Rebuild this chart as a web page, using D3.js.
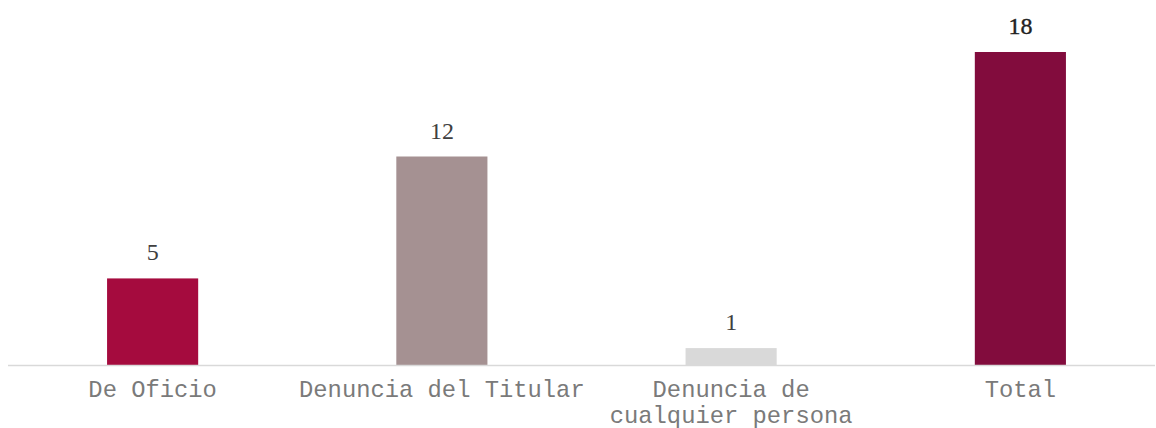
<!DOCTYPE html>
<html>
<head>
<meta charset="utf-8">
<script src="https://cdn.jsdelivr.net/npm/d3@7"></script>
<style>
  body { margin: 0; background: #fff; }
</style>
</head>
<body>
<div id="vis"></div>
<script>
// chart data
var categories = ["De Oficio", "Denuncia del Titular", "Denuncia de|cualquier persona", "Total"];
var values = [5, 12, 1, 18];
var colors = ["#A50B3E", "#A59192", "#D9D9D9", "#820C3D"];

var W = 1156, H = 428;
var base = 365.5;   // baseline of the bars
var top0 = 52;      // top of tallest bar

var svg = d3.select("#vis").append("svg")
  .attr("width", W)
  .attr("height", H);

var x = d3.scaleBand()
  .domain(categories)
  .range([8, 1165])
  .paddingInner(0.685)
  .paddingOuter(0.3425);

var y = d3.scaleLinear()
  .domain([0, 18])
  .range([base, top0]);

// bars
svg.selectAll("rect.bar")
  .data(values)
 .enter().append("rect")
  .attr("class", "bar")
  .attr("x", function(d, i){ return x(categories[i]); })
  .attr("y", function(d){ return y(d); })
  .attr("width", x.bandwidth())
  .attr("height", function(d){ return base - y(d); })
  .attr("fill", function(d, i){ return colors[i]; });

// axis line
svg.append("line")
  .attr("x1", 8).attr("x2", 1155)
  .attr("y1", base).attr("y2", base)
  .attr("stroke", "#D9D9D9")
  .attr("stroke-width", 1.5);

// value labels
svg.selectAll("text.val")
  .data(values)
 .enter().append("text")
  .attr("class", "val")
  .attr("x", function(d, i){ return x(categories[i]) + x.bandwidth()/2; })
  .attr("y", function(d){ return y(d) - 18; })
  .attr("text-anchor", "middle")
  .attr("font-family", "'Liberation Serif', 'Times New Roman', serif")
  .attr("font-size", 24)
  .attr("fill", function(d, i){ return i == 3 ? "#222222" : "#404040"; })
  .attr("stroke", function(d, i){ return i == 3 ? "#222222" : "none"; })
  .attr("stroke-width", 0.4)
  .text(function(d){ return d; });

// category labels (| splits lines)
svg.selectAll("text.cat")
  .data(categories)
 .enter().append("text")
  .attr("class", "cat")
  .attr("text-anchor", "middle")
  .attr("font-family", "'Liberation Mono', 'Courier New', monospace")
  .attr("font-size", 23.8)
  .attr("fill", "#7a7a7a")
  .each(function(d){
    var t = d3.select(this);
    var cx = x(d) + x.bandwidth()/2;
    d.split("|").forEach(function(line, k){
      t.append("tspan")
        .attr("x", cx)
        .attr("y", 396.5 + k*26)
        .text(line);
    });
  });
</script>
</body>
</html>
